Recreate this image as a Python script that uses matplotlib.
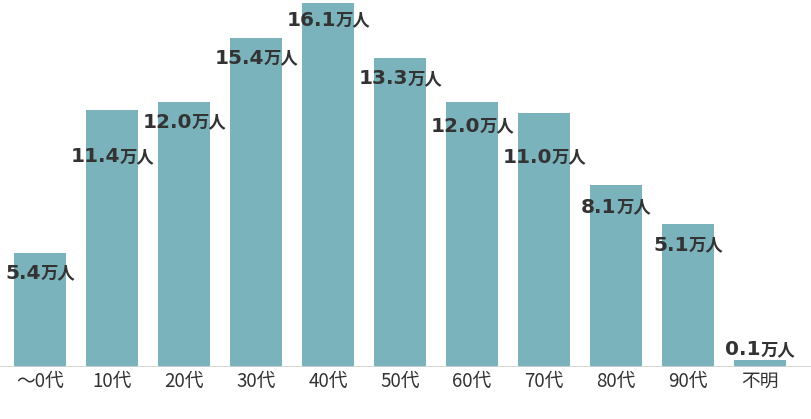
import matplotlib
matplotlib.use("Agg")
import matplotlib.pyplot as plt
from matplotlib.transforms import offset_copy

plt.rcParams["font.family"] = ["Noto Sans CJK JP", "DejaVu Sans"]

# Categories and labels as printed in the reference chart (unit: 万人)
categories = ["～0代", "10代", "20代", "30代", "40代", "50代", "60代", "70代", "80代", "90代", "不明"]
value_labels = ["5.4", "11.4", "12.0", "15.4", "16.1", "13.3", "12.0", "11.0", "8.1", "5.1", "0.1"]
# bar heights as drawn in the reference (not strictly proportional to labels)
bar_heights = [5.04, 11.37, 11.72, 14.55, 16.1, 13.67, 11.72, 11.23, 8.05, 6.32, 0.31]

# label placement below bar top, in pixels (negative = above)
label_drop = [20, 47, 20, 20, 17, 21, 24, 44, 22, 21, -10]

BAR_COLOR = "#7ab3bc"
TEXT_COLOR = "#333333"

fig = plt.figure(figsize=(8.12, 4.19), dpi=100)
ax = fig.add_axes([0, 52 / 419, 1, 367 / 419])

x = list(range(len(categories)))
ax.bar(x, bar_heights, width=0.72, color=BAR_COLOR, zorder=2)
ax.set_xlim(-40 / 72, (812 - 40) / 72)
ax.set_ylim(0, 16.1 * 367 / 364)
ax.axhline(0, color="#d0d0d0", lw=1.2, zorder=3)

for side in ax.spines.values():
    side.set_visible(False)
ax.set_yticks([])
ax.set_xticks(x)
ax.set_xticklabels(categories, fontsize=13.5, color=TEXT_COLOR)
ax.tick_params(axis="x", length=0, pad=3)

for xi, h, lab, drop in zip(x, bar_heights, value_labels, label_drop):
    num_w = 15 * len(lab) - 4
    unit_w = 40
    shift = (num_w - unit_w) / 2
    tr = offset_copy(ax.transData, fig=fig, x=shift * 0.72, y=-drop * 0.72, units="points")
    ax.text(xi, h, lab, transform=tr, ha="right", va="center", family="DejaVu Sans",
            fontsize=14.5, fontweight="bold", color=TEXT_COLOR, zorder=4)
    ax.text(xi, h, "万人", transform=tr, ha="left", va="center",
            fontsize=12.5, fontweight="bold", color=TEXT_COLOR, zorder=4)

fig.savefig("out.png", dpi=100)
